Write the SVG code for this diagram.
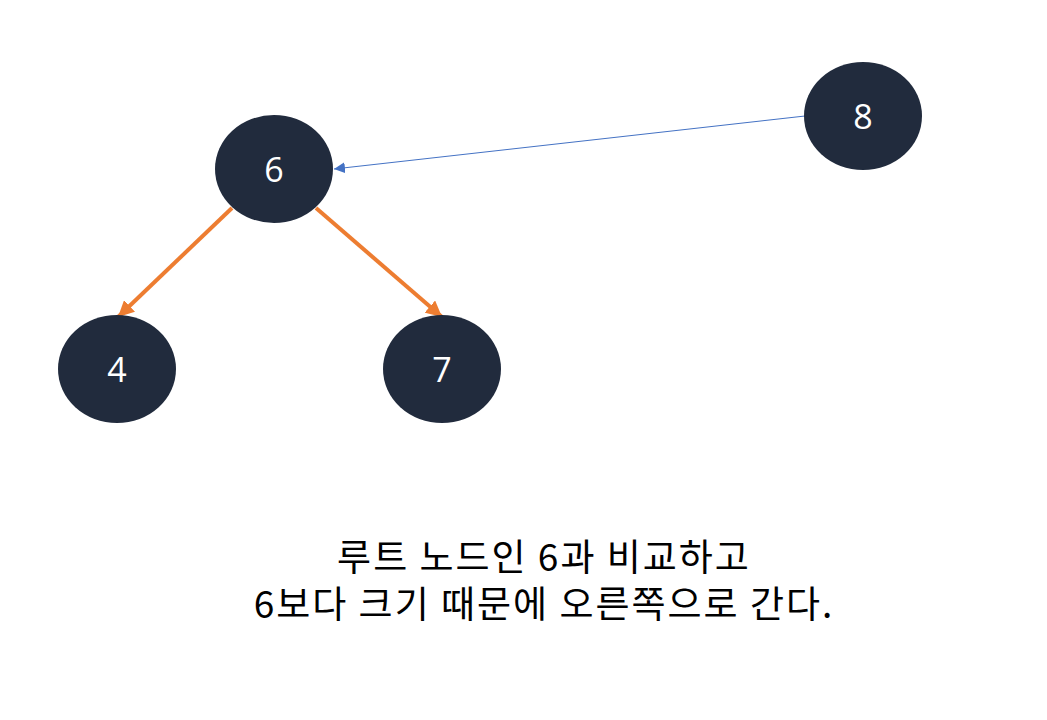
<svg xmlns="http://www.w3.org/2000/svg" width="1047" height="720" viewBox="0 0 1047 720">
<style>
.node ellipse{fill:#212B3D}
.node text{fill:#fff;font-family:"Open Sans","Noto Sans",sans-serif;font-size:34px;text-anchor:middle;dominant-baseline:central}
.cap{fill:#000;font-family:"Noto Sans CJK KR","Noto Sans",sans-serif;font-size:37px;letter-spacing:2px;text-anchor:middle}
</style>
<defs>
<marker id="ao" viewBox="0 0 10 10" refX="10" refY="5" markerWidth="4" markerHeight="4" orient="auto" markerUnits="strokeWidth"><path d="M0,0L10,5L0,10z" fill="#ED7D31"/></marker>
<marker id="ab" viewBox="0 0 10 10" refX="10" refY="5" markerWidth="11" markerHeight="11" orient="auto" markerUnits="strokeWidth"><path d="M0,0L10,5L0,10z" fill="#4472C4"/></marker>
</defs>
<rect width="1047" height="720" fill="#fff"/>
<g id="connectors">
<line x1="232" y1="208" x2="118" y2="317" stroke="#ED7D31" stroke-width="4" marker-end="url(#ao)"/>
<line x1="316" y1="208" x2="442" y2="317" stroke="#ED7D31" stroke-width="4" marker-end="url(#ao)"/>
<line x1="805" y1="116" x2="334" y2="169" stroke="#4472C4" stroke-width="1" marker-end="url(#ab)"/>
</g>
<g id="node6" class="node"><ellipse cx="274" cy="169" rx="59" ry="54"/><text x="274" y="169">6</text></g>
<g id="node8" class="node"><ellipse cx="863" cy="116" rx="59" ry="54"/><text x="863" y="116">8</text></g>
<g id="node4" class="node"><ellipse cx="117" cy="369" rx="59" ry="54"/><text x="117" y="369">4</text></g>
<g id="node7" class="node"><ellipse cx="442" cy="369" rx="59" ry="54"/><text x="442" y="369">7</text></g>
<g id="caption">
<text class="cap" x="544" y="571">루트 노드인 6과 비교하고</text>
<text class="cap" x="544" y="618">6보다 크기 때문에 오른쪽으로 간다.</text>
</g>
</svg>
